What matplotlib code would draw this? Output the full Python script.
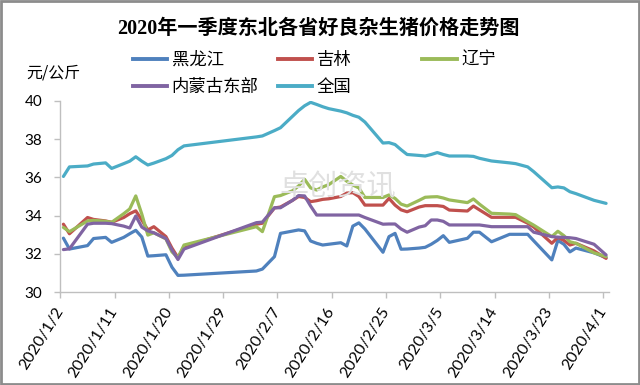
import matplotlib
matplotlib.use("Agg")
import matplotlib.pyplot as plt
import matplotlib.dates as mdates
from matplotlib.lines import Line2D
from matplotlib.patches import Rectangle
import pandas as pd

plt.rcParams['font.family'] = ['Lato', 'Noto Sans CJK SC', 'DejaVu Sans']

title = "2020年一季度东北各省好良杂生猪价格走势图"
unit_label = "元/公斤"
series_names = ["黑龙江", "吉林", "辽宁", "内蒙古东部", "全国"]

dates = ["2020-01-02", "2020-01-03", "2020-01-06", "2020-01-07", "2020-01-09", "2020-01-10",
         "2020-01-12", "2020-01-13", "2020-01-14", "2020-01-15", "2020-01-16", "2020-01-17",
         "2020-01-19", "2020-01-20", "2020-01-21", "2020-01-22", "2020-02-03", "2020-02-04",
         "2020-02-06", "2020-02-07", "2020-02-09", "2020-02-10", "2020-02-11", "2020-02-12",
         "2020-02-13", "2020-02-14", "2020-02-15", "2020-02-17", "2020-02-18", "2020-02-19",
         "2020-02-20", "2020-02-21", "2020-02-24", "2020-02-25", "2020-02-26", "2020-02-27",
         "2020-02-28", "2020-03-01", "2020-03-02", "2020-03-03", "2020-03-04", "2020-03-05",
         "2020-03-06", "2020-03-09", "2020-03-10", "2020-03-11", "2020-03-13", "2020-03-16",
         "2020-03-17", "2020-03-19", "2020-03-20", "2020-03-23", "2020-03-24", "2020-03-25",
         "2020-03-26", "2020-03-27", "2020-03-30", "2020-04-01"]

heilongjiang = [32.82, 32.25, 32.43, 32.80, 32.86, 32.60, 32.86, 33.05, 33.23, 32.88, 31.88, 31.90,
                31.95, 31.30, 30.87, 30.88, 31.10, 31.20, 31.85, 33.07, 33.19, 33.25, 33.20, 32.67,
                32.55, 32.46, 32.50, 32.58, 32.41, 33.45, 33.62, 33.30, 32.08, 32.90, 33.07, 32.24,
                32.25, 32.30, 32.34, 32.50, 32.70, 32.95, 32.60, 32.81, 33.13, 33.13, 32.63, 33.02,
                33.02, 33.02, 32.68, 31.68, 32.70, 32.50, 32.10, 32.30, 32.05, 31.80]

jilin = [33.55, 33.05, 33.90, 33.80, 33.72, 33.65, 33.90, 34.10, 34.25, 33.77, 33.25, 33.42,
         32.90, 32.30, 31.80, 32.37, 33.55, 33.60, 34.40, 34.45, 34.80, 35.00, 34.95, 34.73,
         34.78, 34.85, 34.88, 35.00, 35.18, 35.20, 35.00, 34.55, 34.55, 34.90, 34.55, 34.30,
         34.20, 34.45, 34.52, 34.52, 34.52, 34.48, 34.29, 34.24, 34.50, 34.30, 33.91, 33.91,
         33.91, 33.60, 33.40, 32.55, 32.86, 32.70, 32.46, 32.55, 32.15, 31.76]

liaoning = [33.38, 33.16, 33.72, 33.75, 33.70, 33.65, 34.10, 34.35, 35.03, 34.08, 32.98, 33.10,
            32.78, 32.10, 31.80, 32.46, 33.42, 33.16, 34.99, 35.05, 35.30, 35.55, 35.90, 35.45,
            35.34, 35.50, 35.62, 36.05, 35.80, 35.60, 35.45, 34.95, 34.95, 35.08, 34.90, 34.60,
            34.50, 34.80, 34.96, 34.98, 34.99, 34.92, 34.82, 34.68, 34.87, 34.60, 34.12, 34.08,
            34.05, 33.68, 33.50, 32.90, 33.18, 32.95, 32.63, 32.55, 32.05, 31.85]

neimenggu_east = [32.22, 32.26, 33.55, 33.60, 33.60, 33.58, 33.45, 33.35, 33.98, 33.40, 33.20, 33.10,
                  32.80, 32.20, 31.70, 32.25, 33.63, 33.66, 34.41, 34.41, 34.80, 35.05, 35.03, 34.50,
                  34.03, 34.03, 34.03, 34.03, 34.03, 34.03, 34.03, 33.90, 33.55, 33.56, 33.56, 33.30,
                  33.13, 33.40, 33.47, 33.77, 33.77, 33.70, 33.51, 33.51, 33.51, 33.51, 33.42, 33.42,
                  33.42, 33.42, 33.13, 32.90, 32.87, 32.86, 32.84, 32.80, 32.50, 31.94]

national = [36.05, 36.55, 36.60, 36.70, 36.76, 36.47, 36.72, 36.85, 37.08, 36.85, 36.65, 36.75,
            36.98, 37.15, 37.45, 37.65, 38.12, 38.17, 38.45, 38.60, 39.20, 39.50, 39.75, 39.93,
            39.82, 39.70, 39.60, 39.47, 39.38, 39.25, 39.15, 38.90, 37.80, 37.82, 37.72, 37.45,
            37.20, 37.15, 37.12, 37.20, 37.30, 37.20, 37.12, 37.12, 37.10, 37.00, 36.86, 36.76,
            36.72, 36.55, 36.30, 35.46, 35.50, 35.45, 35.25, 35.15, 34.80, 34.64]

tick_dates = ["2020-01-02", "2020-01-11", "2020-01-20", "2020-01-29", "2020-02-07", "2020-02-16",
              "2020-02-25", "2020-03-05", "2020-03-14", "2020-03-23", "2020-04-01"]
y_ticks = [30, 32, 34, 36, 38, 40]

colors = ["#4F81BD", "#C0504D", "#9BBB59", "#8064A2", "#4BACC6"]

W, H = 640, 385
fig = plt.figure(figsize=(W / 100, H / 100), dpi=100)
ax = fig.add_axes([60.4 / W, 1 - 292 / H, (609.1 - 60.4) / W, (292 - 101) / H])

x = mdates.date2num(pd.to_datetime(dates))
all_series = [heilongjiang, jilin, liaoning, neimenggu_east, national]
lines = []
for vals, c, name in zip(all_series, colors, series_names):
    ln, = ax.plot(x, vals, color=c, lw=2.3, solid_joinstyle='round', solid_capstyle='round', label=name, zorder=3)
    lines.append(ln)

td = pd.to_datetime(tick_dates)
tx = mdates.date2num(td) - 0.5
ax.set_xticks(tx)
ax.set_xticklabels([f"{d.year}/{d.month}/{d.day}" for d in td], rotation=58,
                   rotation_mode='anchor', ha='right', va='center', fontsize=11.5)
ax.set_xlim(x[0] - 0.5, x[-1] + 0.5)
ax.set_ylim(30, 40)
ax.set_yticks(y_ticks)
ax.set_yticklabels([str(v) for v in y_ticks], fontsize=11)

for s in ['top', 'right']:
    ax.spines[s].set_visible(False)
for s in ['left', 'bottom']:
    ax.spines[s].set_color('#bfbfbf')
    ax.spines[s].set_linewidth(1.0)
ax.tick_params(axis='y', length=4, width=1, color='#bfbfbf', pad=9, labelcolor='black')
ax.tick_params(axis='x', length=4, width=1, color='#bfbfbf', pad=8, labelcolor='black')
ax.patch.set_alpha(0)

# watermark
fig.text(338 / W, 1 - 187 / H, "卓创资讯", ha='center', va='center',
         fontsize=21, color='#e0e0e0', zorder=0, family=['Noto Sans CJK SC'])

# title
fig.text(318.5 / W, 1 - 29 / H, title, ha='center', va='center', fontsize=14.5,
         fontweight='bold', family=['Liberation Serif', 'Noto Sans CJK SC'])
# unit label
fig.text(26.7 / W, 1 - 73 / H, unit_label, ha='left', va='center', fontsize=11.5,
         family=['Noto Sans CJK SC', 'DejaVu Sans'])

# legend entries (Excel-style fixed grid)
leg_pos = [(132.7, 60), (277.5, 60), (422, 60), (132.7, 87), (277.5, 87)]
for ln, name, (lx, ly) in zip(lines, series_names, leg_pos):
    h = Line2D([], [], color=ln.get_color(), lw=2.8)
    fig.legend(handles=[h], labels=[name], loc='center left',
               bbox_to_anchor=(lx / W, 1 - ly / H), frameon=False, borderpad=0,
               borderaxespad=0, handlelength=2.0, handletextpad=0.25,
               prop={'family': ['Noto Sans CJK SC'], 'size': 12.5})

fig.patches.append(Rectangle((0.0015, 0.0025), 0.997, 0.995, transform=fig.transFigure,
                             fill=False, edgecolor='#8c8c8c', lw=2))

fig.savefig("out.png", dpi=100)
